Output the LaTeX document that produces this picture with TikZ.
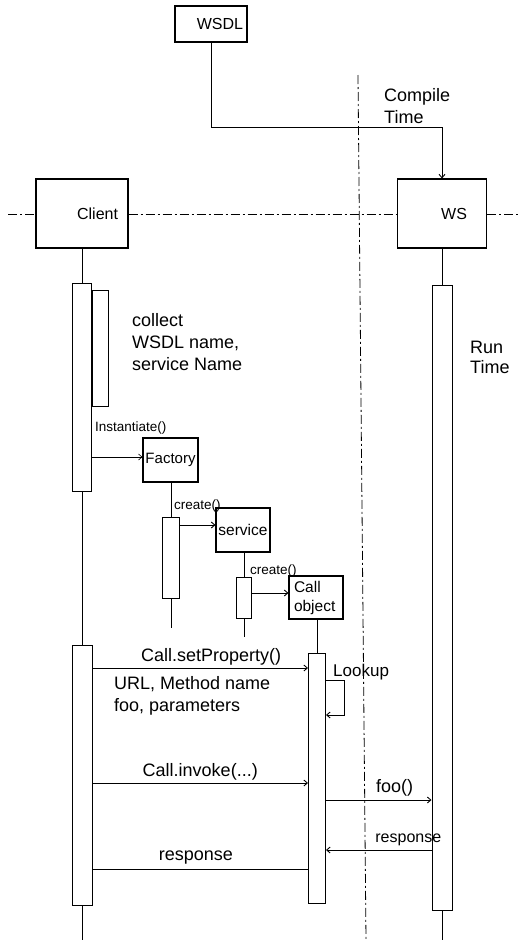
\documentclass[tikz,border=0pt]{standalone}
\usepackage{fontspec}
\setmainfont{Liberation Sans}
\usetikzlibrary{arrows.meta, positioning, calc}

\begin{document}
\begin{tikzpicture}[x=1pt,y=-1pt,
  obj/.style={draw, line width=1.1pt, inner sep=0pt, font=\fontsize{16}{18}\selectfont},
  bar/.style={draw, line width=1pt, fill=white, minimum width=19pt, inner sep=0pt, anchor=north},
  msg/.style={line width=0.9pt, -{Straight Barb[length=3.5pt,width=6pt]}},
  lbl/.style={font=\fontsize{18}{22}\selectfont, align=left, inner sep=1pt},
  small/.style={font=\fontsize{13.5}{15}\selectfont, inner sep=1pt},
  divider/.style={line width=0.8pt, dash pattern=on 9pt off 3pt on 2pt off 3pt}
]
  \useasboundingbox (0,0) rectangle (519,940);
  \def\xC{82}
  \def\xW{442}

  % objects
  \node[obj, minimum width=72pt, minimum height=36pt, text width=64pt, align=right] (wsdl) at (211,24) {WSDL};
  \node[obj, minimum width=92pt, minimum height=69pt, text width=72pt, align=right] (client) at (\xC,213.5) {Client};
  \node[obj, minimum width=89pt, minimum height=69pt, text width=50pt, align=right] (ws) at (\xW,213.5) {WS};
  \node[obj, minimum width=55pt, minimum height=44pt, font=\fontsize{15}{17}\selectfont] (factory) at (170.5,460) {Factory};
  \node[obj, minimum width=54pt, minimum height=44pt, font=\fontsize{15.5}{17}\selectfont] (service) at (243,530) {service};
  \node[obj, minimum width=54pt, minimum height=43pt, text width=44pt, align=left, font=\fontsize{15.5}{19}\selectfont] (callobj) at (316,597.5) {Call\\object};

  % dividers
  \coordinate (vTop) at (358,75);
  \coordinate (vBot) at (366,940);
  \coordinate (hL) at (8,214);
  \coordinate (hR) at (519,214);
  \draw[divider] (vTop) -- (vBot);
  \draw[divider] (hL) -- (client.west |- hL);
  \draw[divider] (client.east |- hL) -- (ws.west |- hL);
  \draw[divider] (ws.east |- hR) -- (hR);

  % compile time
  \coordinate (cTime) at (0,127);
  \draw[msg] (wsdl.south) -- (wsdl.south |- cTime) -| (ws.north);
  \node[lbl, anchor=north west] (compileLbl) at (383,87) {Compile\\Time};
  \node[lbl, anchor=north west, font=\fontsize{18}{20}\selectfont] (runLbl) at (469,340) {Run\\Time};

  % activation bars
  \node[bar, minimum height=208pt] (cbarA) at (\xC,283) {};
  \node[bar, anchor=north west, minimum width=16pt, minimum height=116pt] (cbarN) at ($(cbarA.north east)+(0,7)$) {};
  \node[bar, minimum height=260pt, minimum width=20pt] (cbarB) at (\xC,645) {};
  \node[bar, minimum height=81pt, minimum width=17pt] (fbar) at (171,517) {};
  \node[bar, minimum height=41pt, minimum width=15pt] (sbar) at (244,577) {};
  \node[bar, minimum height=250pt, minimum width=17pt] (callbar) at (317,653) {};
  \node[bar, minimum height=625pt, minimum width=20pt] (wsbar) at (\xW,285) {};

  % lifelines
  \coordinate (cEnd) at (\xC,940);
  \coordinate (wEnd) at (\xW,940);
  \coordinate (fEnd) at (171,628);
  \coordinate (sEnd) at (244,637);
  \draw[line width=1pt] (client.south) -- (cbarA.north);
  \draw[line width=1pt] (cbarA.south) -- (cbarB.north);
  \draw[line width=1pt] (cbarB.south) -- (cEnd);
  \draw[line width=1pt] (ws.south) -- (wsbar.north);
  \draw[line width=1pt] (wsbar.south) -- (wEnd);
  \draw[line width=1pt] (factory.south -| fbar) -- (fbar.north);
  \draw[line width=1pt] (fbar.south) -- (fEnd);
  \draw[line width=1pt] (service.south -| sbar) -- (sbar.north);
  \draw[line width=1pt] (sbar.south) -- (sEnd);
  \draw[line width=1pt] (callobj.south -| callbar) -- (callbar.north);

  \node[lbl, anchor=north west] (collectLbl) at (131,312) {collect\\WSDL name,\\service Name};

  % creation messages
  \coordinate (mInst) at (0,457);
  \coordinate (mSrv) at (0,525);
  \coordinate (mCall) at (0,593);
  \draw[msg, line width=0.6pt] (cbarA.east |- mInst) -- (factory.west |- mInst);
  \node[small, anchor=west] (instLbl) at (94,428) {Instantiate()};
  \draw[msg] (fbar.east |- mSrv) -- (service.west |- mSrv);
  \node[small, anchor=west] (createA) at (173,506) {create()};
  \draw[msg] (sbar.east |- mCall) -- (callobj.west |- mCall);
  \node[small, anchor=west] (createB) at (249,571) {create()};

  % call messages
  \coordinate (mSet) at (0,668);
  \coordinate (mLookA) at (0,680);
  \coordinate (mLookB) at (0,715);
  \coordinate (mInv) at (0,783);
  \coordinate (mFoo) at (0,800);
  \coordinate (mResA) at (0,850);
  \coordinate (mResB) at (0,869);
  \draw[msg] (cbarB.east |- mSet) -- node[lbl, above, pos=0.55, inner sep=2pt] (setLbl) {Call.setProperty()} (callbar.west |- mSet);
  \node[lbl, anchor=north west] (urlLbl) at (113,675) {URL, Method name\\foo, parameters};
  \draw[msg] (callbar.east |- mLookA) -- ++(18,0) |- (callbar.east |- mLookB);
  \node[lbl, anchor=west, font=\fontsize{17}{19}\selectfont] (lookLbl) at (332,672) {Lookup};
  \draw[msg] (cbarB.east |- mInv) -- node[lbl, above, pos=0.5, inner sep=2pt] (invLbl) {Call.invoke(...)} (callbar.west |- mInv);
  \draw[msg] (callbar.east |- mFoo) -- node[lbl, above, pos=0.65, inner sep=3pt] (fooLbl) {foo()} (wsbar.west |- mFoo);
  \draw[msg] (wsbar.west |- mResA) -- node[lbl, above, pos=0.22, inner sep=4pt, font=\fontsize{16}{18}\selectfont] (resLblA) {response} (callbar.east |- mResA);
  \draw[line width=0.9pt] (callbar.west |- mResB) -- node[lbl, above, pos=0.52, inner sep=4pt] (resLblB) {response} (cbarB.east |- mResB);
\end{tikzpicture}
\end{document}
